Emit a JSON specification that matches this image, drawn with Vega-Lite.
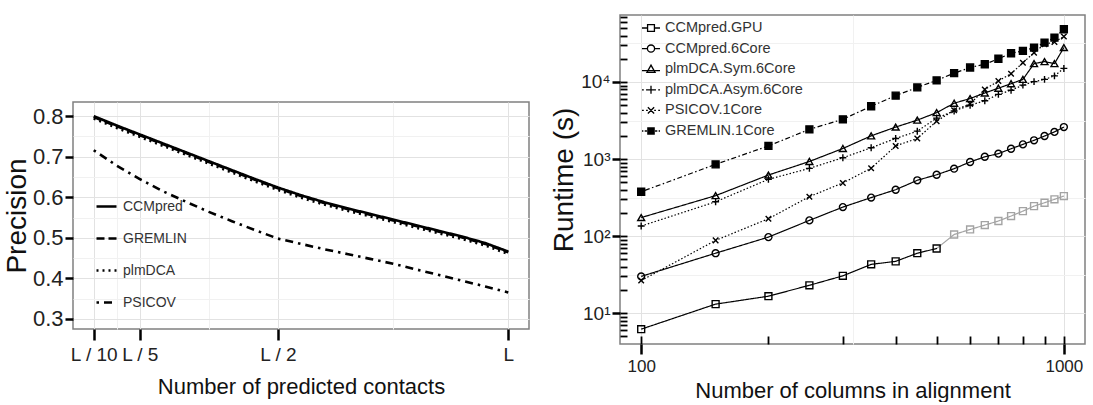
{
  "$schema": "https://vega.github.io/schema/vega-lite/v6.json",
  "background": "white",
  "padding": {"left": 2, "top": 14, "right": 0, "bottom": 0},
  "spacing": 19,
  "config": {
    "font": "Liberation Sans, Arial, sans-serif",
    "view": {"stroke": "#808080", "strokeWidth": 1.5},
    "axis": {"domain": false, "labelColor": "#222", "titleColor": "#111", "titleFontWeight": "normal", "labelOverlap": false, "labelFlush": false, "tickColor": "black"}
  },
  "resolve": {
    "scale": {"strokeDash": "independent", "shape": "independent", "fill": "independent", "stroke": "independent"},
    "legend": {"strokeDash": "independent", "shape": "independent", "fill": "independent"}
  },
  "hconcat": [
    {
      "spacing": 20,
      "vconcat": [
        {
          "width": 456,
          "height": 66,
          "data": {"values": []},
          "mark": "point",
          "view": {"stroke": null}
        },
        {
          "width": 456,
          "height": 227,
          "data": {"values": [
            {"m":"CCMpred","f":0.1,"p":0.800},{"m":"CCMpred","f":0.15,"p":0.777},{"m":"CCMpred","f":0.2,"p":0.755},{"m":"CCMpred","f":0.25,"p":0.733},{"m":"CCMpred","f":0.3,"p":0.711},{"m":"CCMpred","f":0.35,"p":0.689},{"m":"CCMpred","f":0.4,"p":0.667},{"m":"CCMpred","f":0.45,"p":0.645},{"m":"CCMpred","f":0.5,"p":0.624},{"m":"CCMpred","f":0.55,"p":0.605},{"m":"CCMpred","f":0.6,"p":0.588},{"m":"CCMpred","f":0.65,"p":0.573},{"m":"CCMpred","f":0.7,"p":0.559},{"m":"CCMpred","f":0.75,"p":0.545},{"m":"CCMpred","f":0.8,"p":0.531},{"m":"CCMpred","f":0.85,"p":0.517},{"m":"CCMpred","f":0.9,"p":0.503},{"m":"CCMpred","f":0.95,"p":0.487},{"m":"CCMpred","f":1.0,"p":0.466},
            {"m":"GREMLIN","f":0.1,"p":0.798},{"m":"GREMLIN","f":0.15,"p":0.775},{"m":"GREMLIN","f":0.2,"p":0.753},{"m":"GREMLIN","f":0.25,"p":0.731},{"m":"GREMLIN","f":0.3,"p":0.709},{"m":"GREMLIN","f":0.35,"p":0.687},{"m":"GREMLIN","f":0.4,"p":0.665},{"m":"GREMLIN","f":0.45,"p":0.643},{"m":"GREMLIN","f":0.5,"p":0.622},{"m":"GREMLIN","f":0.55,"p":0.603},{"m":"GREMLIN","f":0.6,"p":0.586},{"m":"GREMLIN","f":0.65,"p":0.571},{"m":"GREMLIN","f":0.7,"p":0.557},{"m":"GREMLIN","f":0.75,"p":0.543},{"m":"GREMLIN","f":0.8,"p":0.529},{"m":"GREMLIN","f":0.85,"p":0.515},{"m":"GREMLIN","f":0.9,"p":0.501},{"m":"GREMLIN","f":0.95,"p":0.485},{"m":"GREMLIN","f":1.0,"p":0.464},
            {"m":"plmDCA","f":0.1,"p":0.794},{"m":"plmDCA","f":0.15,"p":0.771},{"m":"plmDCA","f":0.2,"p":0.749},{"m":"plmDCA","f":0.25,"p":0.727},{"m":"plmDCA","f":0.3,"p":0.705},{"m":"plmDCA","f":0.35,"p":0.683},{"m":"plmDCA","f":0.4,"p":0.661},{"m":"plmDCA","f":0.45,"p":0.639},{"m":"plmDCA","f":0.5,"p":0.618},{"m":"plmDCA","f":0.55,"p":0.599},{"m":"plmDCA","f":0.6,"p":0.582},{"m":"plmDCA","f":0.65,"p":0.567},{"m":"plmDCA","f":0.7,"p":0.553},{"m":"plmDCA","f":0.75,"p":0.539},{"m":"plmDCA","f":0.8,"p":0.525},{"m":"plmDCA","f":0.85,"p":0.511},{"m":"plmDCA","f":0.9,"p":0.497},{"m":"plmDCA","f":0.95,"p":0.481},{"m":"plmDCA","f":1.0,"p":0.460},
            {"m":"PSICOV","f":0.1,"p":0.716},{"m":"PSICOV","f":0.15,"p":0.678},{"m":"PSICOV","f":0.2,"p":0.645},{"m":"PSICOV","f":0.25,"p":0.615},{"m":"PSICOV","f":0.3,"p":0.589},{"m":"PSICOV","f":0.35,"p":0.564},{"m":"PSICOV","f":0.4,"p":0.541},{"m":"PSICOV","f":0.45,"p":0.519},{"m":"PSICOV","f":0.5,"p":0.498},{"m":"PSICOV","f":0.55,"p":0.485},{"m":"PSICOV","f":0.6,"p":0.472},{"m":"PSICOV","f":0.65,"p":0.460},{"m":"PSICOV","f":0.7,"p":0.448},{"m":"PSICOV","f":0.75,"p":0.436},{"m":"PSICOV","f":0.8,"p":0.422},{"m":"PSICOV","f":0.85,"p":0.408},{"m":"PSICOV","f":0.9,"p":0.394},{"m":"PSICOV","f":0.95,"p":0.380},{"m":"PSICOV","f":1.0,"p":0.365}
          ]},
          "mark": {"type": "line", "strokeWidth": 2.6, "color": "black"},
          "encoding": {
            "x": {
              "field": "f", "type": "quantitative",
              "scale": {"domain": [0.055, 1.045], "nice": false, "zero": false},
              "title": "Number of predicted contacts",
              "axis": {
                "values": [0.1, 0.15, 0.2, 0.35, 0.5, 0.75, 1],
                "labelExpr": "datum.value == 0.1 ? 'L / 10' : datum.value == 0.2 ? 'L / 5' : datum.value == 0.5 ? 'L / 2' : datum.value == 1 ? 'L' : ''",
                "labelFontSize": 19, "labelPadding": 5,
                "tickSize": 11, "tickWidth": 2.5,
                "tickOpacity": {"condition": {"test": "indexof([0.1, 0.2, 0.5, 1], datum.value) >= 0", "value": 1}, "value": 0},
                "grid": true,
                "gridColor": {"condition": {"test": "indexof([0.1, 0.2, 0.5, 1], datum.value) >= 0", "value": "#e2e2e2"}, "value": "#f1f1f1"},
                "titleFontSize": 22, "titlePadding": 12
              }
            },
            "y": {
              "field": "p", "type": "quantitative",
              "scale": {"domain": [0.275, 0.835], "nice": false, "zero": false},
              "title": "Precision",
              "axis": {
                "values": [0.3, 0.35, 0.4, 0.45, 0.5, 0.55, 0.6, 0.65, 0.7, 0.75, 0.8],
                "labelExpr": "indexof([0.3, 0.4, 0.5, 0.6, 0.7, 0.8], datum.value) >= 0 ? format(datum.value, '.1f') : ''",
                "labelFontSize": 22, "labelPadding": 2,
                "tickSize": 8, "tickWidth": 2.5,
                "tickOpacity": {"condition": {"test": "indexof([0.3, 0.4, 0.5, 0.6, 0.7, 0.8], datum.value) >= 0", "value": 1}, "value": 0},
                "grid": true,
                "gridColor": {"condition": {"test": "indexof([0.3, 0.4, 0.5, 0.6, 0.7, 0.8], datum.value) >= 0", "value": "#e2e2e2"}, "value": "#f1f1f1"},
                "titleFontSize": 28, "titlePadding": 1
              }
            },
            "strokeDash": {
              "field": "m", "type": "nominal",
              "scale": {"domain": ["CCMpred", "GREMLIN", "plmDCA", "PSICOV"], "range": [[1, 0], [8, 4], [2, 4], [2.5, 5, 8, 5]]},
              "legend": {
                "title": null, "orient": "none", "legendX": 22, "legendY": 180,
                "symbolType": "stroke", "symbolSize": 400, "symbolStrokeWidth": 2.5, "symbolStrokeColor": "black",
                "labelFontSize": 14, "labelColor": "#333", "rowPadding": 13, "labelOffset": 5
              }
            }
          }
        }
      ]
    },
    {
      "width": 465,
      "height": 329,
      "data": {"values": [
        {"series":"CCMpred.GPU","cols":100,"time":6.2},{"series":"CCMpred.GPU","cols":150,"time":13.1},{"series":"CCMpred.GPU","cols":200,"time":16.6},{"series":"CCMpred.GPU","cols":250,"time":23},{"series":"CCMpred.GPU","cols":300,"time":30.5},{"series":"CCMpred.GPU","cols":350,"time":43},{"series":"CCMpred.GPU","cols":400,"time":47},{"series":"CCMpred.GPU","cols":450,"time":60},{"series":"CCMpred.GPU","cols":500,"time":69},{"series":"CCMpred.GPU","cols":550,"time":105},{"series":"CCMpred.GPU","cols":600,"time":122},{"series":"CCMpred.GPU","cols":650,"time":139},{"series":"CCMpred.GPU","cols":700,"time":157},{"series":"CCMpred.GPU","cols":750,"time":182},{"series":"CCMpred.GPU","cols":800,"time":211},{"series":"CCMpred.GPU","cols":850,"time":245},{"series":"CCMpred.GPU","cols":900,"time":271},{"series":"CCMpred.GPU","cols":950,"time":300},{"series":"CCMpred.GPU","cols":1000,"time":331},
        {"series":"CCMpred.6Core","cols":100,"time":30},{"series":"CCMpred.6Core","cols":150,"time":60},{"series":"CCMpred.6Core","cols":200,"time":97},{"series":"CCMpred.6Core","cols":250,"time":160},{"series":"CCMpred.6Core","cols":300,"time":238},{"series":"CCMpred.6Core","cols":350,"time":316},{"series":"CCMpred.6Core","cols":400,"time":400},{"series":"CCMpred.6Core","cols":450,"time":530},{"series":"CCMpred.6Core","cols":500,"time":625},{"series":"CCMpred.6Core","cols":550,"time":750},{"series":"CCMpred.6Core","cols":600,"time":915},{"series":"CCMpred.6Core","cols":650,"time":1070},{"series":"CCMpred.6Core","cols":700,"time":1175},{"series":"CCMpred.6Core","cols":750,"time":1360},{"series":"CCMpred.6Core","cols":800,"time":1550},{"series":"CCMpred.6Core","cols":850,"time":1750},{"series":"CCMpred.6Core","cols":900,"time":1990},{"series":"CCMpred.6Core","cols":950,"time":2250},{"series":"CCMpred.6Core","cols":1000,"time":2600},
        {"series":"plmDCA.Sym.6Core","cols":100,"time":174},{"series":"plmDCA.Sym.6Core","cols":150,"time":335},{"series":"plmDCA.Sym.6Core","cols":200,"time":620},{"series":"plmDCA.Sym.6Core","cols":250,"time":930},{"series":"plmDCA.Sym.6Core","cols":300,"time":1370},{"series":"plmDCA.Sym.6Core","cols":350,"time":2000},{"series":"plmDCA.Sym.6Core","cols":400,"time":2600},{"series":"plmDCA.Sym.6Core","cols":450,"time":3200},{"series":"plmDCA.Sym.6Core","cols":500,"time":4000},{"series":"plmDCA.Sym.6Core","cols":550,"time":5300},{"series":"plmDCA.Sym.6Core","cols":600,"time":6100},{"series":"plmDCA.Sym.6Core","cols":650,"time":7200},{"series":"plmDCA.Sym.6Core","cols":700,"time":8300},{"series":"plmDCA.Sym.6Core","cols":750,"time":9500},{"series":"plmDCA.Sym.6Core","cols":800,"time":10800},{"series":"plmDCA.Sym.6Core","cols":850,"time":17300},{"series":"plmDCA.Sym.6Core","cols":900,"time":18400},{"series":"plmDCA.Sym.6Core","cols":950,"time":17300},{"series":"plmDCA.Sym.6Core","cols":1000,"time":28000},
        {"series":"plmDCA.Asym.6Core","cols":100,"time":135},{"series":"plmDCA.Asym.6Core","cols":150,"time":279},{"series":"plmDCA.Asym.6Core","cols":200,"time":545},{"series":"plmDCA.Asym.6Core","cols":250,"time":757},{"series":"plmDCA.Asym.6Core","cols":300,"time":1040},{"series":"plmDCA.Asym.6Core","cols":350,"time":1400},{"series":"plmDCA.Asym.6Core","cols":400,"time":1850},{"series":"plmDCA.Asym.6Core","cols":450,"time":2300},{"series":"plmDCA.Asym.6Core","cols":500,"time":3400},{"series":"plmDCA.Asym.6Core","cols":550,"time":4200},{"series":"plmDCA.Asym.6Core","cols":600,"time":5000},{"series":"plmDCA.Asym.6Core","cols":650,"time":5700},{"series":"plmDCA.Asym.6Core","cols":700,"time":6900},{"series":"plmDCA.Asym.6Core","cols":750,"time":7800},{"series":"plmDCA.Asym.6Core","cols":800,"time":9100},{"series":"plmDCA.Asym.6Core","cols":850,"time":10100},{"series":"plmDCA.Asym.6Core","cols":900,"time":10800},{"series":"plmDCA.Asym.6Core","cols":950,"time":12000},{"series":"plmDCA.Asym.6Core","cols":1000,"time":15000},
        {"series":"PSICOV.1Core","cols":100,"time":26.5},{"series":"PSICOV.1Core","cols":150,"time":88},{"series":"PSICOV.1Core","cols":200,"time":168},{"series":"PSICOV.1Core","cols":250,"time":325},{"series":"PSICOV.1Core","cols":300,"time":490},{"series":"PSICOV.1Core","cols":350,"time":760},{"series":"PSICOV.1Core","cols":400,"time":1480},{"series":"PSICOV.1Core","cols":450,"time":1850},{"series":"PSICOV.1Core","cols":500,"time":3100},{"series":"PSICOV.1Core","cols":550,"time":4300},{"series":"PSICOV.1Core","cols":600,"time":5200},{"series":"PSICOV.1Core","cols":650,"time":8000},{"series":"PSICOV.1Core","cols":700,"time":10300},{"series":"PSICOV.1Core","cols":750,"time":12800},{"series":"PSICOV.1Core","cols":800,"time":17800},{"series":"PSICOV.1Core","cols":850,"time":24000},{"series":"PSICOV.1Core","cols":900,"time":30900},{"series":"PSICOV.1Core","cols":950,"time":33000},{"series":"PSICOV.1Core","cols":1000,"time":39000},
        {"series":"GREMLIN.1Core","cols":100,"time":376},{"series":"GREMLIN.1Core","cols":150,"time":853},{"series":"GREMLIN.1Core","cols":200,"time":1480},{"series":"GREMLIN.1Core","cols":250,"time":2430},{"series":"GREMLIN.1Core","cols":300,"time":3280},{"series":"GREMLIN.1Core","cols":350,"time":4840},{"series":"GREMLIN.1Core","cols":400,"time":6650},{"series":"GREMLIN.1Core","cols":450,"time":8500},{"series":"GREMLIN.1Core","cols":500,"time":10500},{"series":"GREMLIN.1Core","cols":550,"time":13000},{"series":"GREMLIN.1Core","cols":600,"time":15400},{"series":"GREMLIN.1Core","cols":650,"time":17000},{"series":"GREMLIN.1Core","cols":700,"time":20000},{"series":"GREMLIN.1Core","cols":750,"time":23600},{"series":"GREMLIN.1Core","cols":800,"time":25300},{"series":"GREMLIN.1Core","cols":850,"time":27900},{"series":"GREMLIN.1Core","cols":900,"time":32400},{"series":"GREMLIN.1Core","cols":950,"time":37600},{"series":"GREMLIN.1Core","cols":1000,"time":48300}
      ]},
      "resolve": {"scale": {"shape": "independent", "fill": "independent"}, "axis": {"x": "independent", "y": "independent"}},
      "layer": [
        {
          "mark": {"type": "line", "strokeWidth": 1.2},
          "encoding": {
            "x": {
              "field": "cols", "type": "quantitative",
              "scale": {"type": "log", "domain": [89.1, 1122], "nice": false},
              "title": "Number of columns in alignment",
              "axis": {
                "orient": "bottom",
                "values": [100, 316.23, 1000],
                "labelExpr": "datum.value == 100 ? '100' : datum.value == 1000 ? '1000' : ''",
                "labelFontSize": 17, "labelPadding": 4,
                "tickSize": 10, "tickWidth": 2.5,
                "tickOpacity": {"condition": {"test": "datum.value == 100 || datum.value == 1000", "value": 1}, "value": 0},
                "grid": true,
                "gridColor": {"condition": {"test": "datum.value == 100 || datum.value == 1000", "value": "#e2e2e2"}, "value": "#f1f1f1"},
                "titleFontSize": 22, "titlePadding": 6
              }
            },
            "y": {
              "field": "time", "type": "quantitative",
              "scale": {"type": "log", "domain": [3.98, 74000], "nice": false},
              "title": "Runtime (s)",
              "axis": {
                "orient": "left",
                "values": [10, 31.623, 100, 316.23, 1000, 3162.3, 10000, 31623],
                "labelExpr": "datum.value == 10 ? '10¹' : datum.value == 100 ? '10²' : datum.value == 1000 ? '10³' : datum.value == 10000 ? '10⁴' : ''",
                "labelFontSize": 19, "labelPadding": 2,
                "tickSize": 8, "tickWidth": 2.5,
                "tickOpacity": {"condition": {"test": "indexof([10, 100, 1000, 10000], datum.value) >= 0", "value": 1}, "value": 0},
                "grid": true,
                "gridColor": {"condition": {"test": "indexof([10, 100, 1000, 10000], datum.value) >= 0", "value": "#e2e2e2"}, "value": "#f1f1f1"},
                "titleFontSize": 28, "titlePadding": 2
              }
            },
            "strokeDash": {
              "field": "series", "type": "nominal",
              "scale": {"domain": ["CCMpred.GPU", "CCMpred.6Core", "plmDCA.Sym.6Core", "plmDCA.Asym.6Core", "PSICOV.1Core", "GREMLIN.1Core"], "range": [[1, 0], [1, 0], [1, 0], [1.5, 2], [1.5, 2], [1.5, 2.5, 5, 2.5]]},
              "legend": null
            },
            "stroke": {
              "condition": {
                "test": "datum.series === 'CCMpred.GPU'",
                "value": {"gradient": "linear", "x1": 0, "y1": 0, "x2": 1, "y2": 0, "stops": [{"offset": 0, "color": "black"}, {"offset": 0.699, "color": "black"}, {"offset": 0.7, "color": "#a3a3a3"}, {"offset": 1, "color": "#a3a3a3"}]}
              },
              "value": "black"
            }
          }
        },
        {
          "mark": {"type": "point", "filled": false, "size": 48, "strokeWidth": 1.4, "opacity": 1},
          "encoding": {
            "x": {
              "field": "cols", "type": "quantitative",
              "scale": {"type": "log", "domain": [89.1, 1122], "nice": false},
              "axis": {"orient": "bottom", "values": [100, 200, 300, 400, 500, 600, 700, 800, 900, 1000], "labels": false, "title": null, "grid": false, "tickSize": -8, "tickWidth": 1.8}
            },
            "y": {
              "field": "time", "type": "quantitative",
              "scale": {"type": "log", "domain": [3.98, 74000], "nice": false},
              "axis": {"orient": "left", "values": [5, 6, 7, 8, 9, 10, 20, 30, 40, 50, 60, 70, 80, 90, 100, 200, 300, 400, 500, 600, 700, 800, 900, 1000, 2000, 3000, 4000, 5000, 6000, 7000, 8000, 9000, 10000, 20000, 30000, 40000, 50000, 60000, 70000], "labels": false, "title": null, "grid": false, "tickSize": -7, "tickWidth": 1.8}
            },
            "shape": {
              "field": "series", "type": "nominal",
              "scale": {"domain": ["CCMpred.GPU", "CCMpred.6Core", "plmDCA.Sym.6Core", "plmDCA.Asym.6Core", "PSICOV.1Core", "GREMLIN.1Core"], "range": ["square", "circle", "triangle-up", "M-1,0H1M0,-1V1", "M-0.8,-0.8L0.8,0.8M-0.8,0.8L0.8,-0.8", "square"]},
              "legend": null
            },
            "fill": {"condition": {"test": "datum.series === 'GREMLIN.1Core'", "value": "black"}, "value": "transparent"},
            "stroke": {"condition": {"test": "datum.series === 'CCMpred.GPU' && datum.cols > 500", "value": "#a3a3a3"}, "value": "black"}
          }
        },
        {
          "transform": [{"filter": "datum.cols < 0"}],
          "mark": {"type": "point", "filled": false, "color": "black"},
          "encoding": {
            "x": {"field": "cols", "type": "quantitative", "scale": {"type": "log", "domain": [89.1, 1122], "nice": false}, "axis": null},
            "y": {"field": "time", "type": "quantitative", "scale": {"type": "log", "domain": [3.98, 74000], "nice": false}, "axis": null},
            "shape": {
              "field": "series", "type": "nominal",
              "scale": {"domain": ["CCMpred.GPU", "CCMpred.6Core", "plmDCA.Sym.6Core", "plmDCA.Asym.6Core", "PSICOV.1Core", "GREMLIN.1Core"],
                "range": [
                  "M-1,0H-0.38M0.38,0H1M-0.38,-0.38H0.38V0.38H-0.38Z",
                  "M-1,0H-0.4M0.4,0H1M-0.4,0A0.4,0.4,0,1,0,0.4,0A0.4,0.4,0,1,0,-0.4,0Z",
                  "M-1,0.15H1M0,-0.45L0.45,0.35H-0.45Z",
                  "M-1,0H-0.8M-0.55,0H-0.35M0.35,0H0.55M0.8,0H1M-0.45,0H0.45M0,-0.45V0.45",
                  "M-1,0H-0.8M-0.55,0H-0.35M0.35,0H0.55M0.8,0H1M-0.35,-0.35L0.35,0.35M-0.35,0.35L0.35,-0.35",
                  "M-1,0H-0.85M-0.7,0H-0.45M0.45,0H0.7M0.85,0H1M-0.35,-0.35H0.35V0.35H-0.35ZM-0.35,-0.25H0.35M-0.35,-0.15H0.35M-0.35,-0.05H0.35M-0.35,0.05H0.35M-0.35,0.15H0.35M-0.35,0.25H0.35"
                ]},
              "legend": {
                "title": null, "orient": "none", "legendX": 21, "legendY": 3,
                "symbolSize": 324, "symbolStrokeWidth": 1.3, "symbolStrokeColor": "black", "symbolFillColor": "transparent", "symbolOpacity": 1,
                "labelFontSize": 14.5, "labelColor": "#333", "rowPadding": 3.6, "labelOffset": 4
              }
            }
          }
        }
      ]
    }
  ]
}
